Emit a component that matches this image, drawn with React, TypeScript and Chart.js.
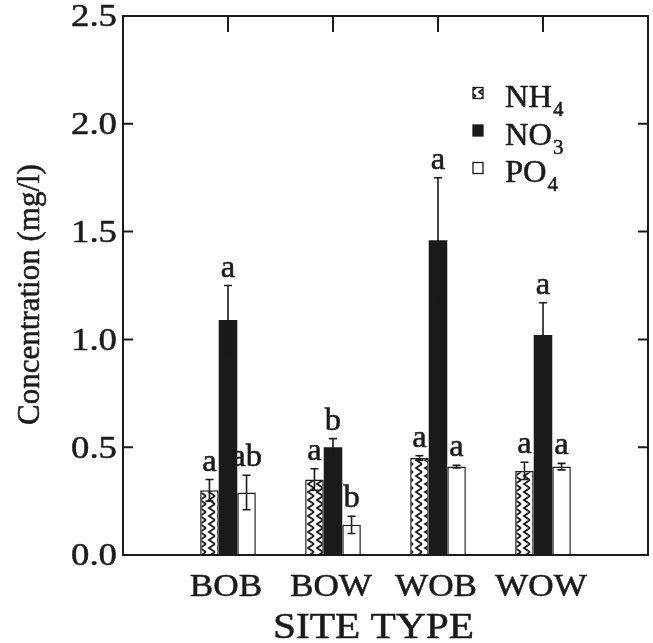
import React, { useEffect, useRef } from 'react';
import { Chart, registerables } from 'chart.js';

Chart.register(...registerables);

const categories = ['BOB', 'BOW', 'WOB', 'WOW'];
const seriesBase = ['NH', 'NO', 'PO'];
const seriesSub = ['4', '3', '4'];
const nh4 = [0.3, 0.35, 0.45, 0.39];
const nh4Err = [0.05, 0.05, 0.01, 0.04];
const no3 = [1.09, 0.5, 1.46, 1.02];
const no3Err = [0.16, 0.04, 0.29, 0.15];
const po4 = [0.29, 0.14, 0.41, 0.41];
const po4Err = [0.08, 0.04, 0.006, 0.015];
const nh4Letters = ['a', 'a', 'a', 'a'];
const no3Letters = ['a', 'b', 'a', 'a'];
const po4Letters = ['ab', 'b', 'a', 'a'];
const yTicks = [0, 0.5, 1.0, 1.5, 2.0, 2.5];
const xTitle = 'SITE TYPE';
const yTitle = 'Concentration (mg/l)';

const FONT = '"Liberation Serif", "DejaVu Serif", serif';
const INK = '#1a1a1a';

function makePattern(): CanvasPattern | string {
  const c = document.createElement('canvas');
  c.width = 9;
  c.height = 8;
  const g = c.getContext('2d');
  if (!g) return '#888';
  g.fillStyle = '#fff';
  g.fillRect(0, 0, 9, 8);
  g.strokeStyle = INK;
  g.lineWidth = 1.8;
  g.beginPath();
  g.moveTo(8, 0);
  g.lineTo(2, 4);
  g.lineTo(8, 8);
  g.stroke();
  return g.createPattern(c, 'repeat') || '#888';
}

function stretchText(
  ctx: CanvasRenderingContext2D,
  text: string,
  x: number,
  y: number,
  size: number,
  sx: number,
  align: CanvasTextAlign,
  baseline: CanvasTextBaseline,
  rotate = 0
) {
  ctx.save();
  ctx.font = `${size}px ${FONT}`;
  ctx.textAlign = align;
  ctx.textBaseline = baseline;
  ctx.fillStyle = INK;
  ctx.strokeStyle = INK;
  ctx.lineWidth = 0.5;
  ctx.translate(x, y);
  if (rotate) ctx.rotate(rotate);
  ctx.scale(sx, 1);
  ctx.fillText(text, 0, 0);
  ctx.strokeText(text, 0, 0);
  ctx.restore();
}

const pad = (arr: any[]) => [null, ...arr, null];

export default function App() {
  const ref = useRef<HTMLCanvasElement>(null);
  useEffect(() => {
    if (!ref.current) return;
    const pattern = makePattern();
    const vals = [nh4, no3, po4];
    const errs = [nh4Err, no3Err, po4Err];
    const letters = [nh4Letters, no3Letters, po4Letters];
    const fills: any[] = [pattern, INK, '#ffffff'];

    const overlay = {
      id: 'overlay',
      afterDatasetsDraw(chart: any) {
        const ctx = chart.ctx;
        const ys = chart.scales.y;
        ctx.save();
        ctx.strokeStyle = INK;
        ctx.fillStyle = INK;
        ctx.lineWidth = 1.6;
        for (let s = 0; s < 3; s++) {
          const meta = chart.getDatasetMeta(s);
          for (let i = 0; i < categories.length; i++) {
            const el = meta.data[i + 1];
            if (!el) continue;
            const x = el.x;
            const v = vals[s][i];
            const e = errs[s][i];
            const yt = ys.getPixelForValue(v + e);
            const yb = ys.getPixelForValue(v - e);
            ctx.beginPath();
            ctx.moveTo(x, yt);
            ctx.lineTo(x, yb);
            ctx.moveTo(x - 4, yt);
            ctx.lineTo(x + 4, yt);
            ctx.moveTo(x - 4, yb);
            ctx.lineTo(x + 4, yb);
            ctx.stroke();
            stretchText(ctx, letters[s][i], x, yt - 9, 31, 1.05, 'center', 'alphabetic');
          }
        }
        ctx.restore();
      },
      afterDraw(chart: any) {
        const ctx = chart.ctx;
        const a = chart.chartArea;
        const ys = chart.scales.y;
        const xs = chart.scales.x;
        ctx.save();
        ctx.strokeStyle = INK;
        ctx.fillStyle = INK;
        ctx.lineWidth = 2;
        ctx.strokeRect(a.left, a.top, a.right - a.left, a.bottom - a.top);
        ctx.beginPath();
        yTicks.forEach((t) => {
          const py = ys.getPixelForValue(t);
          if (t <= 0 || t >= 2.5) return;
          ctx.moveTo(a.left, py);
          ctx.lineTo(a.left + 10, py);
          ctx.moveTo(a.right, py);
          ctx.lineTo(a.right - 10, py);
        });
        categories.forEach((_, i) => {
          const px = xs.getPixelForValue(i + 1);
          ctx.moveTo(px, a.top);
          ctx.lineTo(px, a.top + 16);
          ctx.moveTo(px, a.bottom);
          ctx.lineTo(px, a.bottom - 12);
        });
        ctx.stroke();

        // y tick labels
        yTicks.forEach((t) => {
          const py = ys.getPixelForValue(t);
          stretchText(ctx, t.toFixed(1), a.left - 6, py + 2, 32, 1.15, 'right', 'middle');
        });
        // x tick labels
        categories.forEach((c, i) => {
          const px = xs.getPixelForValue(i + 1);
          stretchText(ctx, c, px - 2, a.bottom + 41, 32, 1.1, 'center', 'alphabetic');
        });
        // axis titles
        stretchText(ctx, xTitle, (a.left + a.right) / 2 - 12, a.bottom + 83, 36, 1.15, 'center', 'alphabetic');
        stretchText(ctx, yTitle, 31, (a.top + a.bottom) / 2 + 9, 31, 1.0, 'center', 'middle', -Math.PI / 2);

        // legend
        const lx = a.left + 350;
        const ly0 = a.top + 77;
        const rowH = 37.5;
        for (let s = 0; s < 3; s++) {
          const cy = ly0 + s * rowH;
          ctx.fillStyle = fills[s];
          ctx.fillRect(lx, cy - 5.5, 10, 11);
          ctx.lineWidth = 1.3;
          ctx.strokeStyle = INK;
          ctx.strokeRect(lx, cy - 5.5, 10, 11);
          const tx = lx + 32;
          const base = cy + 14;
          ctx.font = `31px ${FONT}`;
          const w = ctx.measureText(seriesBase[s]).width * 1.05;
          stretchText(ctx, seriesBase[s], tx, base, 31, 1.05, 'left', 'alphabetic');
          stretchText(ctx, seriesSub[s], tx + w + 1, base + 9, 20, 1.05, 'left', 'alphabetic');
        }
        ctx.restore();
      },
    };

    const chart = new Chart(ref.current, {
      type: 'bar',
      data: {
        labels: ['', ...categories, ''],
        datasets: [0, 1, 2].map((s) => ({
          label: seriesBase[s] + seriesSub[s],
          data: pad(vals[s]),
          backgroundColor: fills[s],
          borderColor: INK,
          borderWidth: s === 1 ? 0 : 1.5,
          categoryPercentage: 0.53,
          barPercentage: 1,
        })),
      },
      options: {
        animation: false,
        responsive: false,
        devicePixelRatio: 1,
        layout: { padding: { top: 16, right: 5, left: 0, bottom: 0 } },
        plugins: { legend: { display: false }, tooltip: { enabled: false } },
        scales: {
          x: {
            type: 'category',
            offset: false,
            grid: { display: false, drawTicks: false, offset: false },
            border: { display: false },
            ticks: { display: false, autoSkip: false },
            afterFit: (s: any) => {
              s.height = 643 - 16 - 539;
            },
          },
          y: {
            type: 'linear',
            min: 0,
            max: 2.5,
            grid: { display: false, drawTicks: false },
            border: { display: false },
            afterBuildTicks: (s: any) => {
              s.ticks = yTicks.map((v) => ({ value: v }));
            },
            ticks: { display: false },
            afterFit: (s: any) => {
              s.width = 123;
            },
          },
        },
      },
      plugins: [overlay],
    });
    return () => chart.destroy();
  }, []);

  return (
    <div style={{ position: 'fixed', left: 0, top: 0, width: 653, height: 643, background: '#fff' }}>
      <canvas ref={ref} width={653} height={643} style={{ display: 'block' }} />
    </div>
  );
}
